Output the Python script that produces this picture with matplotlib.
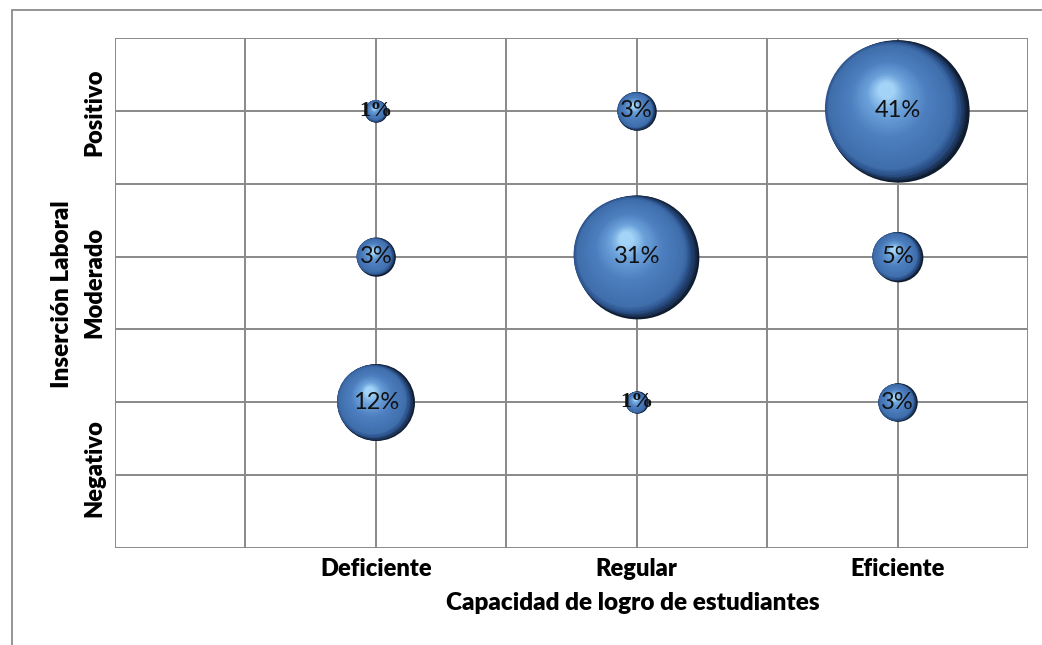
import numpy as np
import matplotlib.pyplot as plt
import matplotlib.transforms as mtransforms
from matplotlib.patches import Rectangle
from matplotlib.colors import LinearSegmentedColormap

x_labels = ['Deficiente', 'Regular', 'Eficiente']
y_labels = ['Negativo', 'Moderado', 'Positivo']
# percentages, rows = y category (Negativo, Moderado, Positivo), cols = x category
pct = np.array([
    [12, 1, 3],
    [3, 31, 5],
    [1, 3, 41],
])

xs, ys, vals = [], [], []
for i in range(3):
    for j in range(3):
        xs.append(j + 1)
        ys.append(i + 1)
        vals.append(pct[i, j])

plt.rcParams['font.family'] = ['Lato', 'DejaVu Sans']

fig = plt.figure(figsize=(10.42, 6.45), dpi=100)
ax = fig.add_axes([115 / 1042, 97 / 645, 913 / 1042, 510 / 645])

# outer chart border (only top/left visible)
fig.patches.append(Rectangle((12 / 1042, -0.1), 1.2, 1.1 - 10 / 645, transform=fig.transFigure,
                             fill=False, edgecolor='#8c8c8c', linewidth=1.3, zorder=0))

ax.set_xlim(0, 3.5)
ax.set_ylim(0, 3.5)
ax.set_xticks(np.arange(0, 3.51, 0.5))
ax.set_yticks(np.arange(0, 3.51, 0.5))
ax.set_xticklabels([])
ax.set_yticklabels([])
ax.tick_params(length=0)
ax.grid(True, color='#898989', linewidth=1.4)
ax.set_axisbelow(True)
for sp in ax.spines.values():
    sp.set_visible(False)

cmap = LinearSegmentedColormap.from_list('sphere', [
    (0.0, '#0f1c30'), (0.06, '#2a5088'), (0.14, '#3f6eab'), (0.5, '#4d7ebf'),
    (0.8, '#6da3dc'), (1.0, '#a6d6f8')])
n_layers = 70


def shifted(dx, dy):
    return ax.transData + mtransforms.ScaledTranslation(dx, dy, fig.dpi_scale_trans)


for x, y, v in zip(xs, ys, vals):
    s = 256 * v
    r_in = np.sqrt(s) / 2 / 72
    for k in range(n_layers):
        t = k / n_layers
        scale = 1 - 0.9 * t
        dx = -r_in * (0.09 * min(t / 0.08, 1) + 0.08 * t)
        dy = r_in * (0.02 * min(t / 0.08, 1) + 0.28 * t)
        ax.scatter([x], [y], s=s * scale ** 2, color=cmap(t), transform=shifted(dx, dy),
                   linewidths=0, zorder=3)
    if v == 1:
        ax.text(x, y, f'{v}%', ha='center', va='center', fontsize=16, color='#111111',
                family=['Liberation Serif'], fontweight='bold', zorder=5)
    else:
        ax.text(x, y, f'{v}%', ha='center', va='center', fontsize=17, color='#111111', zorder=5)

for j, lab in enumerate(x_labels):
    ax.text(j + 1, -0.07, lab, ha='center', va='top', fontsize=17, fontweight='heavy')

ylab_pos = [0.55, 1.82, 2.99]
ytr = mtransforms.blended_transform_factory(ax.transAxes, ax.transData)
for lab, yp in zip(y_labels, ylab_pos):
    ax.text(-0.023, yp, lab, ha='center', va='center', rotation=90, fontsize=17,
            fontweight='heavy', transform=ytr)

fig.text(633 / 1042, 1 - 603 / 645, 'Capacidad de logro de estudiantes', ha='center', va='center',
         fontsize=17.5, fontweight='heavy')
fig.text(62 / 1042, 1 - 294 / 645, 'Inserción Laboral', ha='center', va='center', rotation=90,
         fontsize=17.5, fontweight='heavy')

fig.savefig('out.png', dpi=100)
